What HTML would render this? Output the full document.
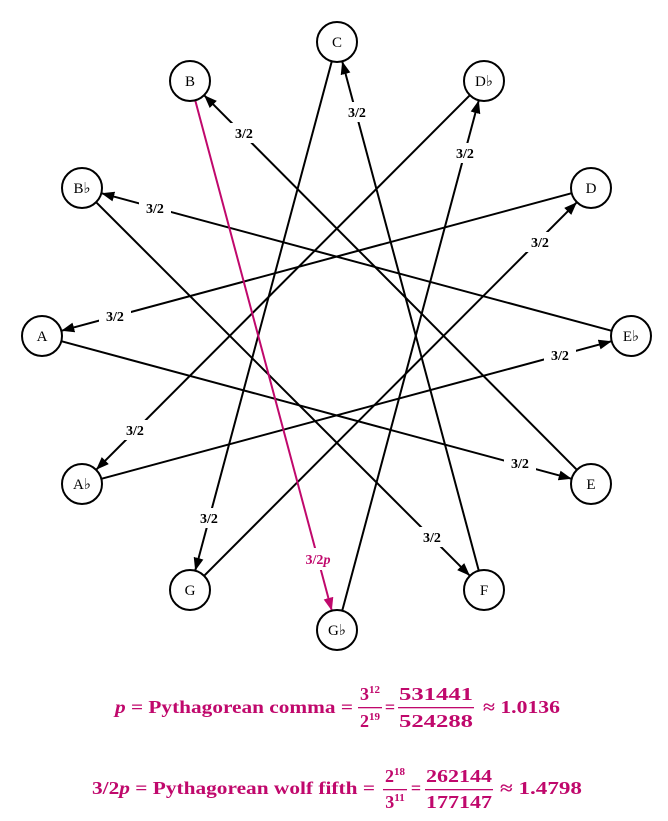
<!DOCTYPE html>
<html><head><meta charset="utf-8"><style>
html,body{margin:0;padding:0;background:#fff;}
svg{display:block;}
.n{font-family:"Liberation Serif",serif;font-size:15px;}
.l{font-family:"Liberation Serif",serif;font-size:14px;font-weight:bold;}
.f{font-family:"Liberation Serif",serif;font-size:18px;font-weight:bold;fill:#c0086c;}
.s{font-size:11px;}
</style></head><body>
<svg width="668" height="821" viewBox="0 0 668 821" xmlns="http://www.w3.org/2000/svg">
<defs>
<marker id="a" markerUnits="userSpaceOnUse" markerWidth="14" markerHeight="12" refX="13" refY="5" orient="auto"><path d="M0,0 L13,5 L0,10 Z" fill="#000"/></marker>
<marker id="m" markerUnits="userSpaceOnUse" markerWidth="14" markerHeight="12" refX="13" refY="5" orient="auto"><path d="M0,0 L13,5 L0,10 Z" fill="#c0086c"/></marker>
</defs>
<g stroke="#000" stroke-width="2" fill="none" marker-end="url(#a)">
<line x1="331.8" y1="61.3" x2="195.2" y2="570.7"/>
<line x1="204.1" y1="575.8" x2="576.9" y2="202.2"/>
<line x1="571.7" y1="193.2" x2="61.3" y2="330.8"/>
<line x1="61.3" y1="341.2" x2="571.7" y2="478.8"/>
<line x1="576.9" y1="469.8" x2="204.1" y2="95.2"/>
<line x1="342.2" y1="610.7" x2="478.8" y2="100.3"/>
<line x1="469.9" y1="95.2" x2="96.1" y2="469.8"/>
<line x1="101.3" y1="478.8" x2="611.7" y2="341.2"/>
<line x1="611.7" y1="330.8" x2="101.3" y2="193.2"/>
<line x1="96.1" y1="202.2" x2="469.9" y2="575.8"/>
<line x1="478.8" y1="570.7" x2="342.2" y2="61.3"/>
</g>
<line x1="195.2" y1="100.3" x2="331.8" y2="610.7" stroke="#c0086c" stroke-width="2" marker-end="url(#m)"/>
<g fill="#fff">
<rect x="193" y="508" width="32" height="20"/><rect x="524" y="232" width="32" height="20"/>
<rect x="99" y="306" width="32" height="20"/><rect x="504" y="453" width="32" height="20"/>
<rect x="228" y="123" width="32" height="20"/><rect x="296" y="548" width="44" height="22"/>
<rect x="449" y="143" width="32" height="20"/><rect x="119" y="420" width="32" height="20"/>
<rect x="544" y="345" width="32" height="20"/><rect x="139" y="198" width="32" height="20"/>
<rect x="416" y="527" width="32" height="20"/><rect x="341" y="102" width="32" height="20"/>
</g>
<g class="l" text-anchor="middle">
<text x="209" y="523">3/2</text><text x="540" y="247">3/2</text>
<text x="115" y="321">3/2</text><text x="520" y="468">3/2</text>
<text x="244" y="138">3/2</text>
<text x="465" y="158">3/2</text><text x="135" y="435">3/2</text>
<text x="560" y="360">3/2</text><text x="155" y="213">3/2</text>
<text x="432" y="542">3/2</text><text x="357" y="117">3/2</text>
<text x="318" y="564" fill="#c0086c">3/2<tspan font-style="italic">p</tspan></text>
</g>
<g fill="#fff" stroke="#000" stroke-width="2">
<circle cx="337" cy="42" r="20"/><circle cx="484" cy="81" r="20"/><circle cx="591" cy="188" r="20"/>
<circle cx="631" cy="336" r="20"/><circle cx="591" cy="484" r="20"/><circle cx="484" cy="590" r="20"/>
<circle cx="337" cy="630" r="20"/><circle cx="190" cy="590" r="20"/><circle cx="82" cy="484" r="20"/>
<circle cx="42" cy="336" r="20"/><circle cx="82" cy="188" r="20"/><circle cx="190" cy="81" r="20"/>
</g>
<g class="n" text-anchor="middle">
<text x="337" y="47">C</text><text x="484" y="86">D♭</text><text x="591" y="193">D</text>
<text x="631" y="341">E♭</text><text x="591" y="489">E</text><text x="484" y="595">F</text>
<text x="337" y="635">G♭</text><text x="190" y="595">G</text><text x="82" y="489">A♭</text>
<text x="42" y="341">A</text><text x="82" y="193">B♭</text><text x="190" y="86">B</text>
</g>
<g class="f">
<text x="115" y="713" textLength="238" lengthAdjust="spacingAndGlyphs"><tspan font-style="italic">p</tspan> = Pythagorean comma =</text>
<text x="370" y="700" text-anchor="middle">3<tspan class="s" dy="-7">12</tspan></text>
<text x="370" y="727" text-anchor="middle">2<tspan class="s" dy="-7">19</tspan></text>
<rect x="358" y="707" width="24" height="1.3"/>
<text x="390" y="713" text-anchor="middle">=</text>
<text x="399" y="700" textLength="74" lengthAdjust="spacingAndGlyphs">531441</text>
<text x="399" y="727" textLength="74" lengthAdjust="spacingAndGlyphs">524288</text>
<rect x="398" y="707" width="76" height="1.3"/>
<text x="483" y="713" textLength="77" lengthAdjust="spacingAndGlyphs">≈ 1.0136</text>

<text x="92" y="794" textLength="283" lengthAdjust="spacingAndGlyphs">3/2<tspan font-style="italic">p</tspan> = Pythagorean wolf fifth =</text>
<text x="395" y="782" text-anchor="middle">2<tspan class="s" dy="-7">18</tspan></text>
<text x="395" y="808" text-anchor="middle">3<tspan class="s" dy="-7">11</tspan></text>
<rect x="383" y="789" width="24" height="1.3"/>
<text x="416" y="794" text-anchor="middle">=</text>
<text x="426" y="782" textLength="66" lengthAdjust="spacingAndGlyphs">262144</text>
<text x="426" y="808" textLength="66" lengthAdjust="spacingAndGlyphs">177147</text>
<rect x="425" y="789" width="68" height="1.3"/>
<text x="500" y="794" textLength="82" lengthAdjust="spacingAndGlyphs">≈ 1.4798</text>
</g>
</svg>
</body></html>
